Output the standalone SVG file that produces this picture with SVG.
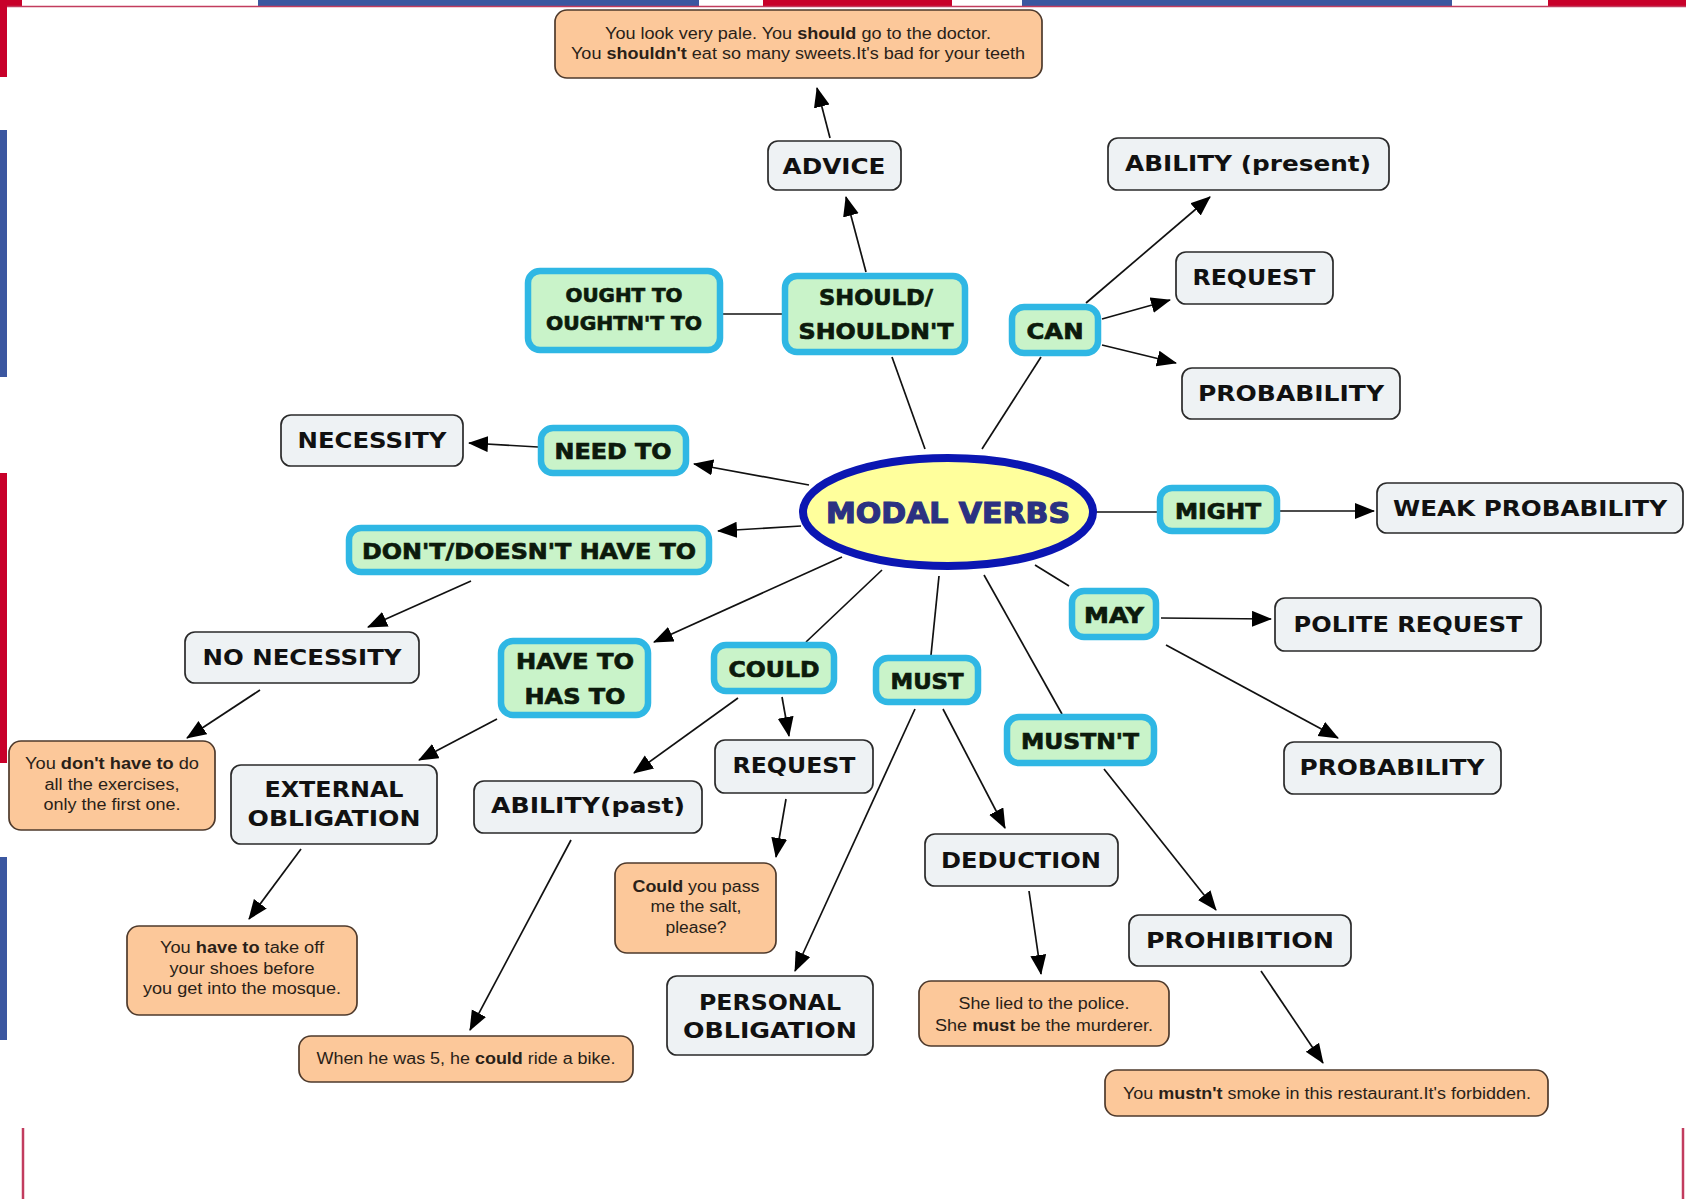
<svg xmlns="http://www.w3.org/2000/svg" width="1686" height="1199" viewBox="0 0 1686 1199">
<defs>
<marker id="arr" markerUnits="userSpaceOnUse" markerWidth="20" markerHeight="17" refX="19" refY="8" orient="auto">
<path d="M0,0 L20,8 L0,16 z" fill="#000"/>
</marker>
<style>
.bg{fill:#fff}
.gray{fill:#EEF2F4;stroke:#2a2a2a;stroke-width:1.7}
.green{fill:#C9F3C9;stroke:#2FB7E4;stroke-width:6.5}
.orange{fill:#FCC89A;stroke:#4e3a2c;stroke-width:1.7}
.lbl{font-family:"DejaVu Sans",Verdana,sans-serif;font-weight:bold;font-size:22px;fill:#111;text-anchor:middle}
.glbl{font-family:"DejaVu Sans",Verdana,sans-serif;font-weight:bold;font-size:22px;fill:#0c1a0c;stroke:#0c1a0c;stroke-width:0.7;text-anchor:middle}
.ex{font-family:"Liberation Sans",Arial,sans-serif;font-size:16px;fill:#2a1f18;text-anchor:middle}
.ex .b{font-weight:bold}
.con line{stroke:#111;stroke-width:1.7}
.a{marker-end:url(#arr)}
</style>
</defs>
<rect class="bg" x="0" y="0" width="1686" height="1199"/>
<g id="flag-edges">
<rect x="0" y="0" width="22" height="6" fill="#C8002A"/>
<rect x="258" y="0" width="441" height="6" fill="#3B57A0"/>
<rect x="763" y="0" width="189" height="6" fill="#C8002A"/>
<rect x="1022" y="0" width="430" height="6" fill="#3B57A0"/>
<rect x="1548" y="0" width="138" height="6" fill="#C8002A"/>
<line x1="7" y1="6.5" x2="1686" y2="6.5" stroke="#C23C5E" stroke-width="1.5"/>
<rect x="0" y="0" width="7" height="77" fill="#C8002A"/>
<rect x="0" y="130" width="7" height="247" fill="#3B57A0"/>
<rect x="0" y="473" width="7" height="290" fill="#C8002A"/>
<rect x="0" y="857" width="7" height="183" fill="#3B57A0"/>
<line x1="23" y1="1128" x2="23" y2="1199" stroke="#C23C5E" stroke-width="2.5"/>
<line x1="1683" y1="1128" x2="1683" y2="1199" stroke="#C23C5E" stroke-width="2.5"/>
</g>
<g class="con" id="connectors">
<line class="a" x1="830" y1="138" x2="817" y2="88"/>
<line class="a" x1="866" y1="272" x2="846" y2="197"/>
<line x1="925" y1="449" x2="892" y2="357"/>
<line x1="982" y1="449" x2="1041" y2="357"/>
<line x1="723" y1="314" x2="782" y2="314"/>
<line class="a" x1="1086" y1="303" x2="1210" y2="197"/>
<line class="a" x1="1102" y1="319" x2="1170" y2="300"/>
<line class="a" x1="1102" y1="345" x2="1176" y2="363"/>
<line class="a" x1="538" y1="447" x2="469" y2="443"/>
<line class="a" x1="809" y1="485" x2="694" y2="464"/>
<line class="a" x1="801" y1="526" x2="718" y2="531"/>
<line x1="1096" y1="512" x2="1157" y2="512"/>
<line class="a" x1="1280" y1="511" x2="1374" y2="511"/>
<line class="a" x1="471" y1="581" x2="368" y2="627"/>
<line class="a" x1="260" y1="690" x2="187" y2="738"/>
<line class="a" x1="842" y1="557" x2="654" y2="642"/>
<line class="a" x1="497" y1="719" x2="419" y2="760"/>
<line class="a" x1="301" y1="849" x2="249" y2="919"/>
<line x1="882" y1="570" x2="806" y2="642"/>
<line class="a" x1="738" y1="698" x2="634" y2="773"/>
<line class="a" x1="782" y1="697" x2="789" y2="736"/>
<line class="a" x1="786" y1="799" x2="776" y2="857"/>
<line class="a" x1="571" y1="840" x2="470" y2="1030"/>
<line x1="939" y1="576" x2="931" y2="655"/>
<line class="a" x1="915" y1="709" x2="795" y2="971"/>
<line class="a" x1="943" y1="709" x2="1005" y2="828"/>
<line class="a" x1="1029" y1="891" x2="1041" y2="974"/>
<line x1="984" y1="575" x2="1062" y2="714"/>
<line class="a" x1="1104" y1="769" x2="1216" y2="910"/>
<line class="a" x1="1261" y1="971" x2="1323" y2="1063"/>
<line x1="1035" y1="565" x2="1069" y2="586"/>
<line class="a" x1="1161" y1="618" x2="1271" y2="619"/>
<line class="a" x1="1166" y1="645" x2="1338" y2="738"/>
</g>
<g id="ex-advice"><rect class="orange" x="555" y="10" width="487" height="68" rx="12"/>
<text class="ex" x="798" y="39" textLength="386" lengthAdjust="spacingAndGlyphs">You look very pale. You <tspan class="b">should</tspan> go to the doctor.</text>
<text class="ex" x="798" y="59" textLength="454" lengthAdjust="spacingAndGlyphs">You <tspan class="b">shouldn't</tspan> eat so many sweets.It's bad for your teeth</text></g>
<g id="advice"><rect class="gray" x="768" y="141" width="133" height="49" rx="10"/><text class="lbl" x="834" y="174" textLength="103" lengthAdjust="spacingAndGlyphs">ADVICE</text></g>
<g id="ability-present"><rect class="gray" x="1108" y="138" width="281" height="52" rx="10"/><text class="lbl" x="1248" y="171" textLength="246" lengthAdjust="spacingAndGlyphs">ABILITY (present)</text></g>
<g id="request-can"><rect class="gray" x="1176" y="252" width="157" height="52" rx="10"/><text class="lbl" x="1254" y="285" textLength="123" lengthAdjust="spacingAndGlyphs">REQUEST</text></g>
<g id="probability-can"><rect class="gray" x="1182" y="368" width="218" height="51" rx="10"/><text class="lbl" x="1291" y="401" textLength="186" lengthAdjust="spacingAndGlyphs">PROBABILITY</text></g>
<g id="ought"><rect class="green" x="528" y="271" width="192" height="79" rx="12"/>
<text class="glbl" x="624" y="302" style="font-size:19px" textLength="117" lengthAdjust="spacingAndGlyphs">OUGHT TO</text>
<text class="glbl" x="624" y="330" style="font-size:19px" textLength="156" lengthAdjust="spacingAndGlyphs">OUGHTN'T TO</text></g>
<g id="should"><rect class="green" x="785" y="276" width="180" height="76" rx="12"/>
<text class="glbl" x="876" y="305" textLength="114" lengthAdjust="spacingAndGlyphs">SHOULD/</text>
<text class="glbl" x="876" y="339" textLength="155" lengthAdjust="spacingAndGlyphs">SHOULDN'T</text></g>
<g id="can"><rect class="green" x="1012" y="307" width="86" height="46" rx="12"/><text class="glbl" x="1055" y="339" textLength="57" lengthAdjust="spacingAndGlyphs">CAN</text></g>
<g id="necessity"><rect class="gray" x="281" y="415" width="182" height="51" rx="10"/><text class="lbl" x="372" y="448" textLength="149" lengthAdjust="spacingAndGlyphs">NECESSITY</text></g>
<g id="need-to"><rect class="green" x="541" y="428" width="145" height="45" rx="12"/><text class="glbl" x="613" y="459" textLength="117" lengthAdjust="spacingAndGlyphs">NEED TO</text></g>
<g id="modal-verbs"><ellipse cx="948" cy="512" rx="145" ry="54" fill="#FFFF9C" stroke="#0B16B2" stroke-width="8"/>
<text x="948" y="523" text-anchor="middle" font-family="'DejaVu Sans',Verdana,sans-serif" font-weight="bold" font-size="29" fill="#2B3182" textLength="244" lengthAdjust="spacingAndGlyphs" stroke="#2B3182" stroke-width="1.2">MODAL VERBS</text></g>
<g id="might"><rect class="green" x="1160" y="488" width="117" height="43" rx="12"/><text class="glbl" x="1218" y="519" textLength="86" lengthAdjust="spacingAndGlyphs">MIGHT</text></g>
<g id="weak-probability"><rect class="gray" x="1377" y="483" width="306" height="50" rx="10"/><text class="lbl" x="1530" y="516" textLength="274" lengthAdjust="spacingAndGlyphs">WEAK PROBABILITY</text></g>
<g id="dont-have-to"><rect class="green" x="349" y="528" width="360" height="44" rx="12"/><text class="glbl" x="529" y="559" textLength="334" lengthAdjust="spacingAndGlyphs">DON'T/DOESN'T HAVE TO</text></g>
<g id="no-necessity"><rect class="gray" x="185" y="632" width="234" height="51" rx="10"/><text class="lbl" x="302" y="665" textLength="199" lengthAdjust="spacingAndGlyphs">NO NECESSITY</text></g>
<g id="have-to"><rect class="green" x="501" y="641" width="147" height="74" rx="12"/>
<text class="glbl" x="575" y="669" textLength="118" lengthAdjust="spacingAndGlyphs">HAVE TO</text>
<text class="glbl" x="575" y="704" textLength="101" lengthAdjust="spacingAndGlyphs">HAS TO</text></g>
<g id="could"><rect class="green" x="714" y="645" width="120" height="46" rx="12"/><text class="glbl" x="774" y="677" textLength="91" lengthAdjust="spacingAndGlyphs">COULD</text></g>
<g id="must"><rect class="green" x="876" y="658" width="102" height="44" rx="12"/><text class="glbl" x="927" y="689" textLength="73" lengthAdjust="spacingAndGlyphs">MUST</text></g>
<g id="may"><rect class="green" x="1072" y="591" width="84" height="46" rx="12"/><text class="glbl" x="1114" y="623" textLength="60" lengthAdjust="spacingAndGlyphs">MAY</text></g>
<g id="polite-request"><rect class="gray" x="1275" y="598" width="266" height="53" rx="10"/><text class="lbl" x="1408" y="632" textLength="229" lengthAdjust="spacingAndGlyphs">POLITE REQUEST</text></g>
<g id="mustnt"><rect class="green" x="1007" y="717" width="147" height="46" rx="12"/><text class="glbl" x="1080" y="749" textLength="118" lengthAdjust="spacingAndGlyphs">MUSTN'T</text></g>
<g id="probability-may"><rect class="gray" x="1284" y="742" width="217" height="52" rx="10"/><text class="lbl" x="1392" y="775" textLength="185" lengthAdjust="spacingAndGlyphs">PROBABILITY</text></g>
<g id="ex-dont"><rect class="orange" x="9" y="741" width="206" height="89" rx="12"/>
<text class="ex" x="112" y="769" textLength="174" lengthAdjust="spacingAndGlyphs">You <tspan class="b">don't have to</tspan> do</text>
<text class="ex" x="112" y="790" textLength="135" lengthAdjust="spacingAndGlyphs">all the exercises,</text>
<text class="ex" x="112" y="810" textLength="137" lengthAdjust="spacingAndGlyphs">only the first one.</text></g>
<g id="external-obligation"><rect class="gray" x="231" y="765" width="206" height="79" rx="10"/>
<text class="lbl" x="334" y="797" textLength="139" lengthAdjust="spacingAndGlyphs">EXTERNAL</text>
<text class="lbl" x="334" y="826" textLength="173" lengthAdjust="spacingAndGlyphs">OBLIGATION</text></g>
<g id="ability-past"><rect class="gray" x="474" y="781" width="228" height="52" rx="10"/><text class="lbl" x="588" y="813" textLength="194" lengthAdjust="spacingAndGlyphs">ABILITY(past)</text></g>
<g id="request-could"><rect class="gray" x="715" y="740" width="158" height="53" rx="10"/><text class="lbl" x="794" y="773" textLength="123" lengthAdjust="spacingAndGlyphs">REQUEST</text></g>
<g id="deduction"><rect class="gray" x="925" y="834" width="193" height="52" rx="10"/><text class="lbl" x="1021" y="868" textLength="160" lengthAdjust="spacingAndGlyphs">DEDUCTION</text></g>
<g id="prohibition"><rect class="gray" x="1129" y="915" width="222" height="51" rx="10"/><text class="lbl" x="1240" y="948" textLength="188" lengthAdjust="spacingAndGlyphs">PROHIBITION</text></g>
<g id="ex-could"><rect class="orange" x="615" y="863" width="161" height="90" rx="12"/>
<text class="ex" x="696" y="892" textLength="127" lengthAdjust="spacingAndGlyphs"><tspan class="b">Could</tspan> you pass</text>
<text class="ex" x="696" y="912" textLength="91" lengthAdjust="spacingAndGlyphs">me the salt,</text>
<text class="ex" x="696" y="933" textLength="61" lengthAdjust="spacingAndGlyphs">please?</text></g>
<g id="ex-have-to"><rect class="orange" x="127" y="926" width="230" height="89" rx="12"/>
<text class="ex" x="242" y="953" textLength="164" lengthAdjust="spacingAndGlyphs">You <tspan class="b">have to</tspan> take off</text>
<text class="ex" x="242" y="974" textLength="145" lengthAdjust="spacingAndGlyphs">your shoes before</text>
<text class="ex" x="242" y="994" textLength="198" lengthAdjust="spacingAndGlyphs">you get into the mosque.</text></g>
<g id="personal-obligation"><rect class="gray" x="667" y="976" width="206" height="79" rx="10"/>
<text class="lbl" x="770" y="1010" textLength="142" lengthAdjust="spacingAndGlyphs">PERSONAL</text>
<text class="lbl" x="770" y="1038" textLength="174" lengthAdjust="spacingAndGlyphs">OBLIGATION</text></g>
<g id="ex-must"><rect class="orange" x="919" y="981" width="250" height="65" rx="12"/>
<text class="ex" x="1044" y="1009" textLength="171" lengthAdjust="spacingAndGlyphs">She lied to the police.</text>
<text class="ex" x="1044" y="1031" textLength="218" lengthAdjust="spacingAndGlyphs">She <tspan class="b">must</tspan> be the murderer.</text></g>
<g id="ex-could-past"><rect class="orange" x="299" y="1036" width="334" height="46" rx="12"/>
<text class="ex" x="466" y="1064" textLength="299" lengthAdjust="spacingAndGlyphs">When he was 5, he <tspan class="b">could</tspan> ride a bike.</text></g>
<g id="ex-mustnt"><rect class="orange" x="1105" y="1070" width="443" height="46" rx="12"/>
<text class="ex" x="1327" y="1099" textLength="408" lengthAdjust="spacingAndGlyphs">You <tspan class="b">mustn't</tspan> smoke in this restaurant.It's forbidden.</text></g>
</svg>
